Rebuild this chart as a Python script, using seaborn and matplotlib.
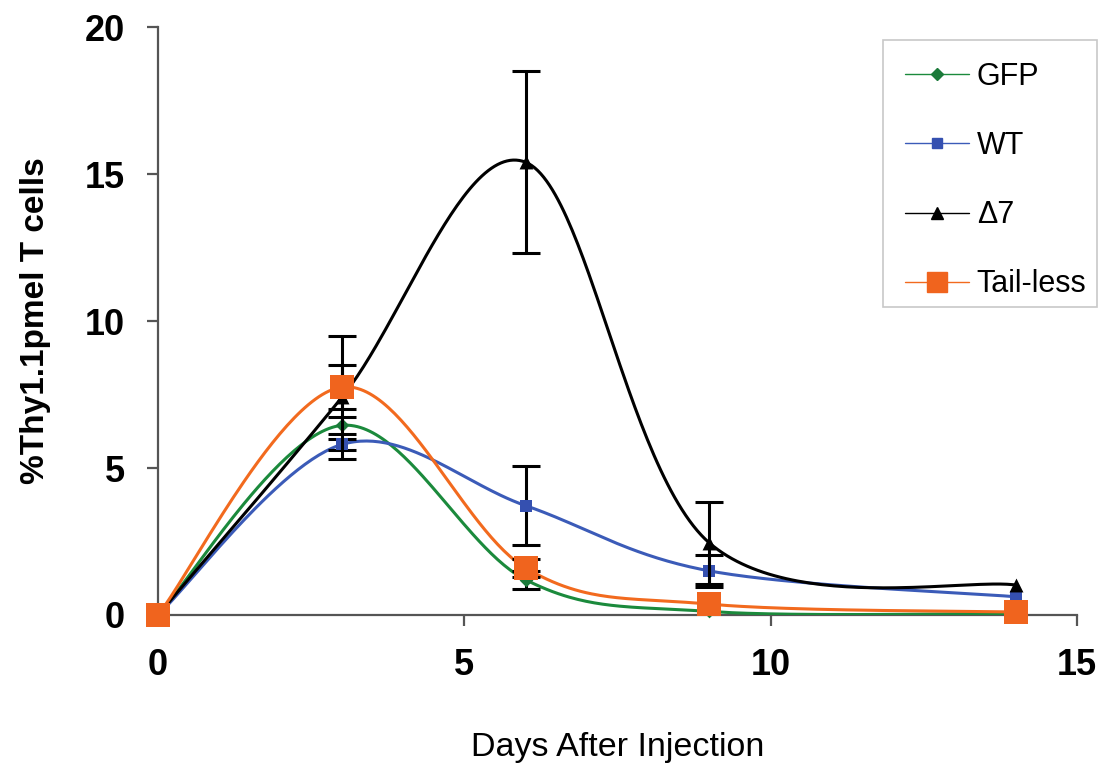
import numpy as np
import pandas as pd
import matplotlib
matplotlib.use("Agg")
import matplotlib.pyplot as plt
from matplotlib.lines import Line2D
from matplotlib.patches import Rectangle
import seaborn as sns

# ---- data ----
days = [0, 3, 6, 9, 14]
series_names = ["GFP", "WT", "\u03947", "Tail-less"]
gfp = [0, 6.45, 1.2, 0.12, 0.05]
gfp_err = [0, 0.3, 0.3, 0, 0]
wt = [0, 5.8, 3.72, 1.5, 0.62]
wt_err = [0, 0.2, 1.35, 0.55, 0]
d7 = [0, 7.4, 15.4, 2.45, 1.02]
d7_err = [0, 2.1, 3.1, 1.4, 0]
tailless = [0, 7.75, 1.6, 0.37, 0.1]
tailless_err = [0, 0.75, 0.3, 0, 0]
x_ticks = [0, 5, 10, 15]
y_ticks = [0, 5, 10, 15, 20]

sns.set_theme(style="white")
plt.rcParams["font.family"] = ["Liberation Sans", "DejaVu Sans"]
plt.rcParams["text.color"] = "black"
plt.rcParams["axes.labelcolor"] = "black"
plt.rcParams["xtick.color"] = "black"
plt.rcParams["ytick.color"] = "black"

W, H = 1110, 771
fig = plt.figure(figsize=(W / 100, H / 100), dpi=100)
ax = fig.add_axes([158 / W, 1 - 615 / H, (1077 - 158) / W, (615 - 27) / H])
ax.set_xlim(0, 15)
ax.set_ylim(0, 20)

# pixel scale used for Excel-like smoothed line rendering
sx = (1077 - 158) / 15.0
sy = (615 - 27) / 20.0


def smooth_curve(x, y, n=60):
    P = np.column_stack([np.asarray(x, float) * sx, np.asarray(y, float) * sy])
    out = []
    for i in range(len(P) - 1):
        p0 = P[i - 1] if i > 0 else P[i]
        p1, p2 = P[i], P[i + 1]
        p3 = P[i + 2] if i + 2 < len(P) else P[i + 1]
        c1 = p1 + (p2 - p0) / 6.0
        c2 = p2 - (p3 - p1) / 6.0
        t = np.linspace(0, 1, n)[:, None]
        seg = (1 - t) ** 3 * p1 + 3 * (1 - t) ** 2 * t * c1 + 3 * (1 - t) * t ** 2 * c2 + t ** 3 * p2
        out.append(seg if i == 0 else seg[1:])
    Q = np.vstack(out)
    return Q[:, 0] / sx, Q[:, 1] / sy


styles = [
    ("GFP", gfp, gfp_err, "#1b8a3c", "D", 7, "#1b7a3a"),
    ("WT", wt, wt_err, "#3b5bb8", "s", 8, "#3550b0"),
    ("\u03947", d7, d7_err, "#000000", "^", 10, "#000000"),
    ("Tail-less", tailless, tailless_err, "#f26a1e", "s", 17, "#f0641e"),
]

handles = []
for k, (name, vals, errs, col, mk, ms, mcol) in enumerate(styles):
    cx, cy = smooth_curve(days, vals)
    sns.lineplot(x=cx, y=cy, sort=False, estimator=None, color=col, linewidth=2.2, ax=ax, zorder=3 + k)
    e = np.asarray(errs, float)
    m = e > 0
    if m.any():
        ax.errorbar(np.asarray(days)[m], np.asarray(vals)[m], yerr=e[m], fmt="none",
                    ecolor="black", elinewidth=2.2, capsize=10, capthick=2.2, zorder=3 + k)
    sns.scatterplot(x=days, y=vals, marker=mk, s=ms ** 2, color=mcol, edgecolor=mcol,
                    linewidth=0, ax=ax, zorder=3.5 + k, clip_on=False)
    handles.append(Line2D([], [], color=col, lw=1.0, marker=mk, markersize=ms * 0.9 if k < 3 else 15,
                          markerfacecolor=mcol, markeredgecolor=mcol))

for side in ["top", "right"]:
    ax.spines[side].set_visible(False)
for side in ["left", "bottom"]:
    ax.spines[side].set_color("#555555")
    ax.spines[side].set_linewidth(1.6)

ax.set_xticks(x_ticks)
ax.set_yticks(y_ticks)
ax.tick_params(axis="both", which="major", direction="out", length=8, width=1.6, color="#555555",
               labelcolor="black", labelsize=26, pad=16, bottom=True, left=True)
for lab in ax.get_xticklabels() + ax.get_yticklabels():
    lab.set_fontweight("bold")

ax.set_xlabel("Days After Injection", fontsize=24.5, labelpad=35, color="black")
ax.set_ylabel("%Thy1.1pmel T cells", fontsize=24, fontweight="bold", labelpad=24, color="black")

# legend (frame drawn separately so that the box matches the reference)
leg = ax.legend(handles, series_names, loc="upper left", bbox_to_anchor=(905 / W, 1 - 62 / H),
                bbox_transform=fig.transFigure, frameon=False,
                fontsize=22, handlelength=2.1, handletextpad=0.25, labelspacing=1.28,
                borderpad=0, borderaxespad=0)
for t in leg.get_texts():
    t.set_color("black")
fig.patches.append(Rectangle((883 / W, 1 - 307 / H), (1097 - 883) / W, (307 - 40) / H,
                             transform=fig.transFigure, fill=False, edgecolor="#c8c8c8",
                             linewidth=1.2, zorder=10))

fig.savefig("out.png", dpi=100)
